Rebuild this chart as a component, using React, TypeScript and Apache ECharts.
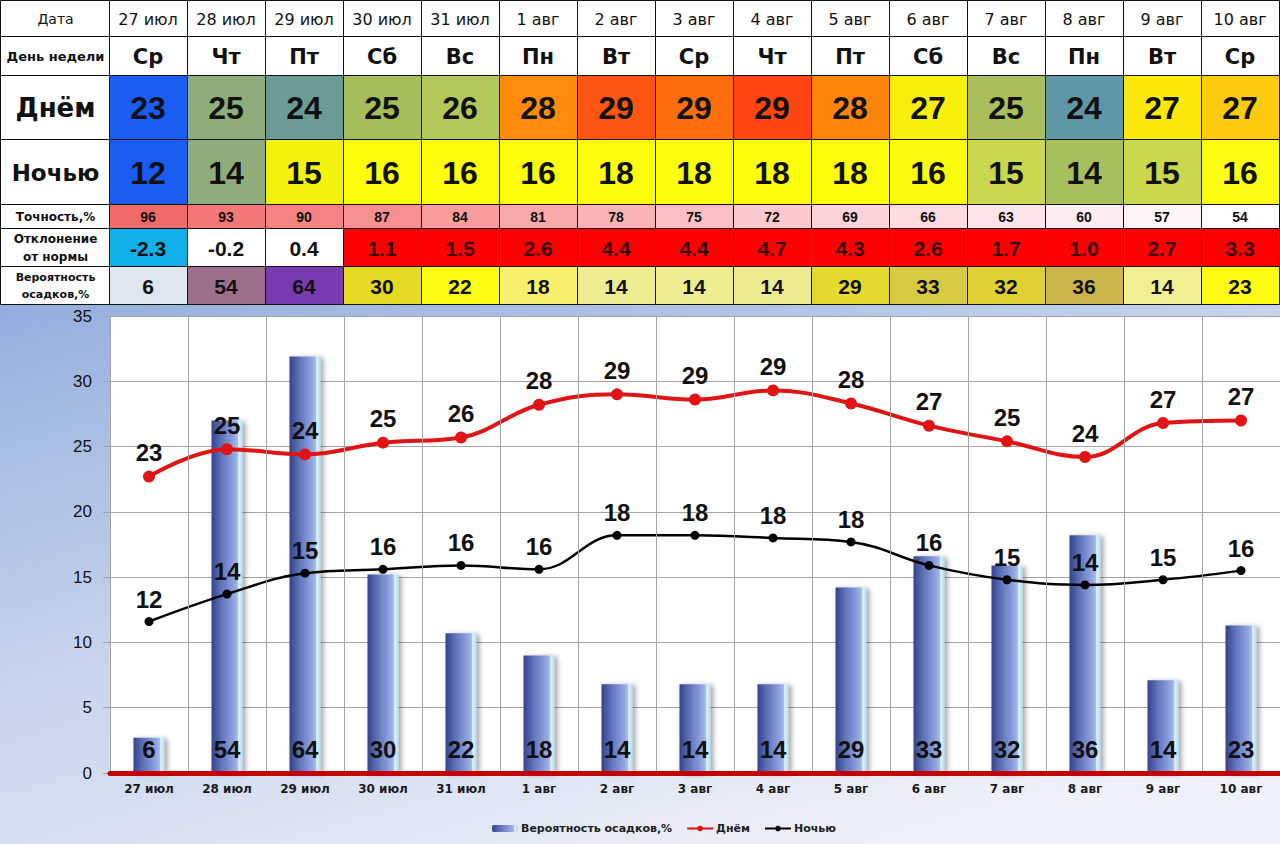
import React, { useEffect, useRef } from "react";
import * as echarts from "echarts";

const dates = ["27 июл", "28 июл", "29 июл", "30 июл", "31 июл", "1 авг", "2 авг", "3 авг", "4 авг", "5 авг", "6 авг", "7 авг", "8 авг", "9 авг", "10 авг"];
const weekdays = ["Ср", "Чт", "Пт", "Сб", "Вс", "Пн", "Вт", "Ср", "Чт", "Пт", "Сб", "Вс", "Пн", "Вт", "Ср"];
const dayTemp = [23, 25, 24, 25, 26, 28, 29, 29, 29, 28, 27, 25, 24, 27, 27];
const nightTemp = [12, 14, 15, 16, 16, 16, 18, 18, 18, 18, 16, 15, 14, 15, 16];
const accuracy = [96, 93, 90, 87, 84, 81, 78, 75, 72, 69, 66, 63, 60, 57, 54];
const deviation = ["-2.3", "-0.2", "0.4", "1.1", "1.5", "2.6", "4.4", "4.4", "4.7", "4.3", "2.6", "1.7", "1.0", "2.7", "3.3"];
const precipProb = [6, 54, 64, 30, 22, 18, 14, 14, 14, 29, 33, 32, 36, 14, 23];

// values as plotted in the chart
const dayLine = [22.7, 24.8, 24.4, 25.3, 25.7, 28.2, 29.0, 28.6, 29.3, 28.3, 26.6, 25.4, 24.2, 26.8, 27.0];
const nightLine = [11.6, 13.7, 15.3, 15.6, 15.9, 15.6, 18.2, 18.2, 18.0, 17.7, 15.9, 14.8, 14.4, 14.8, 15.5];
const precipBar = [2.7, 27.0, 31.9, 15.2, 10.7, 9.0, 6.8, 6.8, 6.8, 14.2, 16.6, 15.9, 18.2, 7.1, 11.3];

const rowLabels = ["Дата", "День недели", "Днём", "Ночью", "Точность,%", "Отклонение\nот нормы", "Вероятность\nосадков,%"];

// cell colours
const dayColors = ["#1b5cf2", "#8fad7b", "#6b9b96", "#a6bd5c", "#b3c85a", "#ff8a0c", "#ff5512", "#ff6e0c", "#ff4612", "#ff840a", "#f8ef0c", "#a8bf5c", "#5f97a6", "#fde80c", "#fccb0c"];
const nightColors = ["#1b5cf2", "#8fad7b", "#f2f20c", "#fdfd0c", "#fdfd0c", "#fdfd0c", "#fdfd0c", "#fdfd0c", "#fdfd0c", "#fdfd0c", "#fbfb0c", "#c9d84e", "#a7c05e", "#c9d84c", "#fcfc14"];
const accColors = ["#f06a6a", "#f37777", "#f58383", "#f79090", "#f89c9c", "#f9a8aa", "#fab4b6", "#fbbfc2", "#fcc9cd", "#fcd3d8", "#fddce0", "#fde4e8", "#feedf0", "#fff5f7", "#ffffff"];
const devColors = ["#12b0ea", "#ffffff", "#ffffff", "#fe0000", "#fe0000", "#fe0000", "#fe0000", "#fe0000", "#fe0000", "#fe0000", "#fe0000", "#fe0000", "#fe0000", "#fe0000", "#fe0000"];
const probColors = ["#dfe6f0", "#9c6f8c", "#7a3bb0", "#e6da22", "#fcfc14", "#f6f06a", "#f0ec92", "#f0ec92", "#eeea90", "#e4da30", "#d8ca40", "#e0d034", "#ccb64c", "#f2ee92", "#fcfc14"];

const FONT_TXT = "DejaVu Sans";
const FONT_NUM = "Liberation Sans";

function buildTable() {
  const rowTops = [0, 36, 75, 139, 204, 228, 266, 304];
  const firstW = 109;
  const colW = 78;
  const els: any[] = [];
  const labelStyles = [
    { fontSize: 14, fontWeight: "normal" },
    { fontSize: 13, fontWeight: "bold" },
    { fontSize: 26, fontWeight: "bold" },
    { fontSize: 23, fontWeight: "bold" },
    { fontSize: 12, fontWeight: "bold" },
    { fontSize: 12, fontWeight: "bold" },
    { fontSize: 11, fontWeight: "bold" },
  ];
  const rowData: string[][] = [
    dates,
    weekdays,
    dayTemp.map(String),
    nightTemp.map(String),
    accuracy.map(String),
    deviation,
    precipProb.map(String),
  ];
  const rowColors: string[][] = [
    dates.map(() => "#ffffff"),
    dates.map(() => "#ffffff"),
    dayColors,
    nightColors,
    accColors,
    devColors,
    probColors,
  ];
  const cellStyles = [
    { fontSize: 16, fontWeight: "normal", fontFamily: FONT_TXT },
    { fontSize: 21, fontWeight: "bold", fontFamily: FONT_TXT },
    { fontSize: 32, fontWeight: "bold", fontFamily: FONT_NUM },
    { fontSize: 32, fontWeight: "bold", fontFamily: FONT_NUM },
    { fontSize: 14, fontWeight: "bold", fontFamily: FONT_NUM },
    { fontSize: 21, fontWeight: "bold", fontFamily: FONT_NUM },
    { fontSize: 21, fontWeight: "bold", fontFamily: FONT_NUM },
  ];
  for (let r = 0; r < 7; r++) {
    const y0 = rowTops[r];
    const h = rowTops[r + 1] - y0;
    els.push({
      type: "rect",
      shape: { x: 0.5, y: y0 + 0.5, width: firstW, height: h },
      style: { fill: "#ffffff", stroke: "#111", lineWidth: 1 },
      z: 1,
    });
    els.push({
      type: "text",
      x: firstW / 2 + 1,
      y: y0 + h / 2 + 1,
      style: {
        text: rowLabels[r],
        fontSize: labelStyles[r].fontSize,
        fontWeight: labelStyles[r].fontWeight,
        fontFamily: FONT_TXT,
        fill: "#111",
        align: "center",
        verticalAlign: "middle",
        lineHeight: labelStyles[r].fontSize + 6,
      },
      z: 2,
    });
    for (let c = 0; c < dates.length; c++) {
      const x0 = firstW + c * colW;
      els.push({
        type: "rect",
        shape: { x: x0 + 0.5, y: y0 + 0.5, width: colW, height: h },
        style: { fill: rowColors[r][c], stroke: "#111", lineWidth: 1 },
        z: 1,
      });
      let fill = "#111";
      if (r === 5 && devColors[c] === "#fe0000") fill = "#3a0000";
      els.push({
        type: "text",
        x: x0 + colW / 2,
        y: y0 + h / 2 + 1,
        style: {
          text: rowData[r][c],
          fontSize: cellStyles[r].fontSize,
          fontWeight: cellStyles[r].fontWeight,
          fontFamily: cellStyles[r].fontFamily,
          fill,
          align: "center",
          verticalAlign: "middle",
        },
        z: 2,
      });
    }
  }
  return els;
}

export default function App() {
  const ref = useRef<HTMLDivElement>(null);
  useEffect(() => {
    if (!ref.current) return;
    const chart = echarts.init(ref.current, null, { renderer: "svg" });
    const barGradient = new echarts.graphic.LinearGradient(0, 0, 1, 0, [
      { offset: 0, color: "#34428a" },
      { offset: 0.3, color: "#5d70b8" },
      { offset: 0.75, color: "#93a8e4" },
      { offset: 0.84, color: "#a8bcef" },
      { offset: 0.88, color: "#e0f6fc" },
      { offset: 1, color: "#b5d5ec" },
    ]);
    const graphics: any[] = [
      {
        type: "rect",
        shape: { x: 0, y: 304, width: 1280, height: 540 },
        style: {
          fill: new echarts.graphic.LinearGradient(0, 0, 0.7, 1, [
            { offset: 0, color: "#93aedd" },
            { offset: 0.5, color: "#c9d5ec" },
            { offset: 1, color: "#eef1f8" },
          ]),
        },
        z: -100,
      },
      {
        type: "rect",
        shape: { x: 110, y: 316, width: 1170, height: 457 },
        style: { fill: "#ffffff" },
        z: -99,
      },
      ...buildTable(),
    ];
    chart.setOption({
      animation: false,
      textStyle: { fontFamily: FONT_TXT },
      graphic: graphics,
      grid: { left: 110, right: 0, top: 316, bottom: 71, containLabel: false },
      legend: {
        left: 487,
        top: 818,
        itemWidth: 26,
        itemHeight: 7,
        itemGap: 14,
        textStyle: { fontSize: 11, fontWeight: "bold", color: "#222", fontFamily: FONT_TXT, padding: [0, 0, 0, -2] },
        data: ["Вероятность осадков,%", "Днём", "Ночью"],
      },
      xAxis: {
        type: "category",
        data: dates,
        boundaryGap: true,
        axisLine: { show: true, lineStyle: { color: "#c40000", width: 5 } },
        axisTick: { show: true, length: 3, lineStyle: { color: "#c40000", width: 2 } },
        splitLine: { show: true, lineStyle: { color: "#a4a4a4", width: 1 } },
        axisLabel: { fontSize: 12, fontWeight: "bold", color: "#1a1a1a", margin: 10, fontFamily: FONT_TXT },
        z: 5,
      },
      yAxis: {
        type: "value",
        min: 0,
        max: 35,
        interval: 5,
        axisLine: { show: true, lineStyle: { color: "#a4a4a4", width: 1 } },
        axisTick: { show: true, length: 7, lineStyle: { color: "#a4a4a4" } },
        splitLine: { show: true, lineStyle: { color: "#a4a4a4", width: 1 } },
        axisLabel: { fontSize: 17, color: "#111", margin: 18, fontFamily: FONT_NUM },
      },
      series: [
        {
          name: "Вероятность осадков,%",
          type: "bar",
          data: precipBar,
          barWidth: 31,
          itemStyle: {
            color: barGradient,
            shadowColor: "rgba(0,0,0,0.35)",
            shadowBlur: 5,
            shadowOffsetX: 3,
            shadowOffsetY: 1,
          },
          label: {
            show: true,
            position: "insideBottom",
            distance: 8,
            offset: [0, -4],
            formatter: (p: any) => String(precipProb[p.dataIndex]),
            fontSize: 24,
            fontWeight: "bold",
            color: "#111",
            fontFamily: FONT_NUM,
          },
          z: 2,
        },
        {
          name: "Днём",
          type: "line",
          data: dayLine,
          smooth: 0.4,
          symbol: "circle",
          symbolSize: 12,
          itemStyle: { color: "#e01414" },
          lineStyle: { color: "#e01414", width: 4 },
          label: {
            show: true,
            position: "top",
            distance: 6,
            formatter: (p: any) => String(dayTemp[p.dataIndex]),
            fontSize: 24,
            fontWeight: "bold",
            color: "#111",
            fontFamily: FONT_NUM,
          },
          z: 4,
        },
        {
          name: "Ночью",
          type: "line",
          data: nightLine,
          smooth: 0.4,
          symbol: "circle",
          symbolSize: 9,
          itemStyle: { color: "#000" },
          lineStyle: { color: "#000", width: 2.5 },
          label: {
            show: true,
            position: "top",
            distance: 6,
            formatter: (p: any) => String(nightTemp[p.dataIndex]),
            fontSize: 24,
            fontWeight: "bold",
            color: "#111",
            fontFamily: FONT_NUM,
          },
          z: 4,
        },
      ],
    });
    return () => chart.dispose();
  }, []);
  return <div ref={ref} style={{ position: "absolute", left: 0, top: 0, width: 1280, height: 844 }} />;
}
